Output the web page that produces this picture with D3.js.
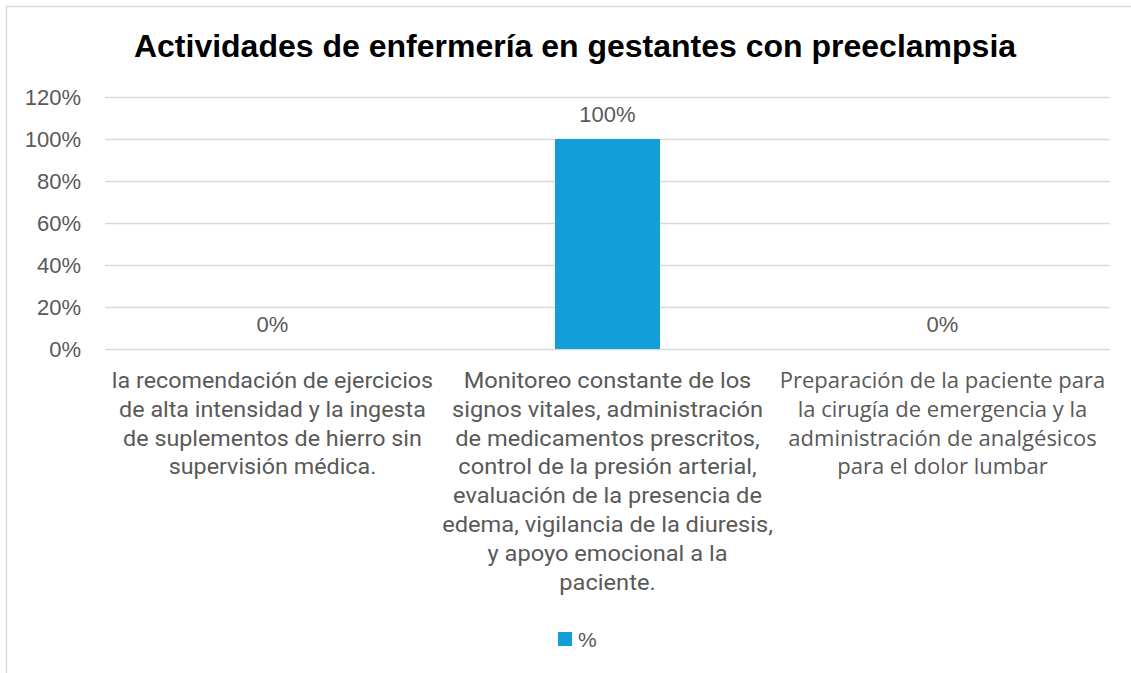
<!DOCTYPE html>
<html>
<head>
<meta charset="utf-8">
<script src="https://cdn.jsdelivr.net/npm/d3@7"></script>
<style>
  html, body { margin: 0; padding: 0; background: #fff; }
  svg { display: block; }
</style>
</head>
<body>
<svg id="chart" width="1131" height="673"></svg>
<script>
// Chart content
const title = "Actividades de enfermería en gestantes con preeclampsia";
const seriesName = "%";
const categories = ["A", "B", "C"];
const categoryLines = [
  ["la recomendación de ejercicios", "de alta intensidad y la ingesta", "de suplementos de hierro sin", "supervisión médica."],
  ["Monitoreo constante de los", "signos vitales, administración", "de medicamentos prescritos,", "control de la presión arterial,", "evaluación de la presencia de", "edema, vigilancia de la diuresis,", "y apoyo emocional a la", "paciente."],
  ["Preparación de la paciente para", "la cirugía de emergencia y la", "administración de analgésicos", "para el dolor lumbar"]
];
const values = [0, 1, 0];
const yTicks = [0, 0.2, 0.4, 0.6, 0.8, 1.0, 1.2];

const svg = d3.select("#chart");
const W = 1131, H = 673;
const plot = { left: 105, right: 1110, top: 97, bottom: 349 };
const textGray = "#595959";
const gridGray = "#d9d9d9";
const barColor = "#129fd9";
const sans = "Liberation Sans, Arial, sans-serif";

// Outer chart frame
svg.append("rect")
  .attr("x", 6.5).attr("y", 6.5)
  .attr("width", W + 20).attr("height", H + 20)
  .attr("fill", "#fff").attr("stroke", gridGray).attr("stroke-width", 1.5);

// Title
svg.append("text")
  .attr("x", 575).attr("y", 57)
  .attr("text-anchor", "middle")
  .attr("font-family", sans)
  .attr("font-weight", "bold")
  .attr("font-size", 32)
  .attr("fill", "#000")
  .text(title);

const x = d3.scaleBand().domain(categories).range([plot.left, plot.right]).paddingInner(0).paddingOuter(0);
const y = d3.scaleLinear().domain([0, 1.2]).range([plot.bottom, plot.top]);

// Gridlines + y axis labels
const yAxis = d3.axisLeft(y).tickValues(yTicks).tickFormat(d3.format(".0%"))
  .tickSize(-(plot.right - plot.left)).tickPadding(24);
const gy = svg.append("g").attr("transform", `translate(${plot.left},0)`).call(yAxis);
gy.select(".domain").remove();
gy.selectAll(".tick line").attr("stroke", gridGray).attr("stroke-width", 1.3);
gy.selectAll(".tick text")
  .attr("fill", textGray)
  .attr("font-family", sans)
  .attr("font-size", 22);

// Bars
const barW = 105;
svg.append("g").selectAll("rect").data(values).join("rect")
  .attr("x", (d, i) => x(categories[i]) + x.bandwidth() / 2 - barW / 2)
  .attr("y", d => y(d))
  .attr("width", barW)
  .attr("height", d => y(0) - y(d))
  .attr("fill", barColor);

// Value labels
svg.append("g").selectAll("text").data(values).join("text")
  .attr("x", (d, i) => x(categories[i]) + x.bandwidth() / 2)
  .attr("y", d => y(d) - 17.5)
  .attr("text-anchor", "middle")
  .attr("fill", textGray)
  .attr("font-family", sans)
  .attr("font-size", 22)
  .text(d => d3.format(".0%")(d));

// Category labels (wrapped lines)
const catFonts = [
  { family: "Roboto, sans-serif", size: 22, sx: 1.06 },
  { family: "Roboto, sans-serif", size: 22, sx: 1.075 },
  { family: "Open Sans, sans-serif", size: 22, sx: 1 }
];
categoryLines.forEach((lines, i) => {
  const cx = x(categories[i]) + x.bandwidth() / 2;
  const f = catFonts[i];
  const g = svg.append("g").attr("transform", `translate(${cx},0) scale(${f.sx},1)`);
  g.selectAll("text").data(lines).join("text")
    .attr("x", 0)
    .attr("y", (d, j) => 388 + j * 28.8)
    .attr("text-anchor", "middle")
    .attr("fill", textGray)
    .attr("font-family", f.family)
    .attr("font-size", f.size)
    .text(d => d);
});

// Legend
const lg = svg.append("g").attr("transform", "translate(558,632)");
lg.append("rect").attr("width", 14).attr("height", 14).attr("fill", barColor);
lg.append("text").attr("x", 20).attr("y", 15)
  .attr("fill", textGray)
  .attr("font-family", sans)
  .attr("font-size", 21)
  .text(seriesName);
</script>
</body>
</html>
